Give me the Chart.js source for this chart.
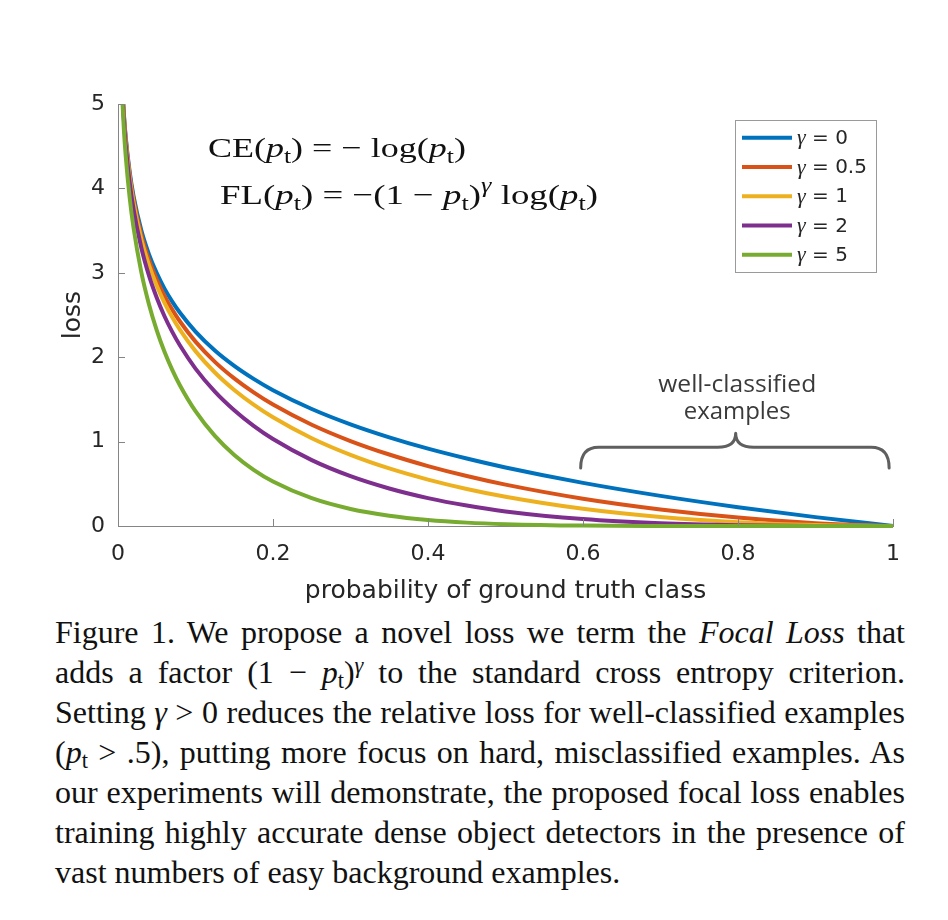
<!DOCTYPE html>
<html>
<head>
<meta charset="utf-8">
<script src="https://cdn.jsdelivr.net/npm/chart.js@4.4.1/dist/chart.umd.min.js"></script>
<style>
  html, body { margin: 0; padding: 0; background: #fff; }
  #wrap { position: relative; width: 948px; height: 920px; }
  #myChart { position: absolute; left: 0; top: 0; }
  .cap { position: absolute; left: 55px; top: 612px; width: 850px;
         font-family: "Liberation Serif", "Times New Roman", serif; font-size: 32px;
         line-height: 40px; color: #111; }
  .ln { white-space: nowrap; height: 40px; }
  .sb { font-size: 0.7em; position: relative; top: 0.22em; line-height: 0; }
  .sp { font-size: 0.7em; position: relative; top: -0.45em; line-height: 0; }
</style>
</head>
<body>
<div id="wrap">
  <canvas id="myChart" width="948" height="612"></canvas>
  <div class="cap" id="cap">
    <div class="ln"><span>Figure 1. We propose a novel loss we term the <i>Focal Loss</i> that</span></div>
    <div class="ln"><span>adds a factor (1 − <i>p</i><span class="sb">t</span>)<span class="sp"><i>γ</i></span> to the standard cross entropy criterion.</span></div>
    <div class="ln"><span>Setting <i>γ</i> &gt; 0 reduces the relative loss for well-classified examples</span></div>
    <div class="ln"><span>(<i>p</i><span class="sb">t</span> &gt; .5), putting more focus on hard, misclassified examples. As</span></div>
    <div class="ln"><span>our experiments will demonstrate, the proposed focal loss enables</span></div>
    <div class="ln"><span>training highly accurate dense object detectors in the presence of</span></div>
    <div class="ln"><span>vast numbers of easy background examples.</span></div>
  </div>
</div>
<script>
// probability of ground truth class
const pt = [0.005, 0.0075, 0.01, 0.015, 0.02, 0.03, 0.04, 0.05, 0.06, 0.07, 0.08, 0.1, 0.125,
  0.15, 0.175, 0.2, 0.25, 0.3, 0.35, 0.4, 0.45, 0.5, 0.6, 0.7, 0.8, 0.9, 1];

// loss
const lossG0 = [5.298, 4.893, 4.605, 4.200, 3.912, 3.507, 3.219, 2.996, 2.813, 2.659, 2.526, 2.303, 2.079,
  1.897, 1.743, 1.609, 1.386, 1.204, 1.050, 0.916, 0.799, 0.693, 0.511, 0.357, 0.223, 0.105, 0];
const lossG05 = [5.285, 4.875, 4.582, 4.168, 3.873, 3.454, 3.154, 2.920, 2.727, 2.564, 2.423, 2.185, 1.945,
  1.749, 1.583, 1.439, 1.200, 1.007, 0.847, 0.710, 0.592, 0.490, 0.323, 0.196, 0.100, 0.033, 0];
const lossG1 = [5.272, 4.856, 4.559, 4.137, 3.834, 3.402, 3.090, 2.846, 2.644, 2.473, 2.324, 2.072, 1.819,
  1.612, 1.438, 1.288, 1.040, 0.843, 0.682, 0.550, 0.439, 0.347, 0.204, 0.107, 0.045, 0.011, 0];
const lossG2 = [5.245, 4.820, 4.513, 4.075, 3.757, 3.300, 2.966, 2.704, 2.485, 2.300, 2.138, 1.865, 1.592,
  1.371, 1.186, 1.030, 0.780, 0.590, 0.444, 0.330, 0.242, 0.173, 0.082, 0.032, 0.009, 0.001, 0];
const lossG5 = [5.167, 4.712, 4.379, 3.894, 3.536, 3.011, 2.625, 2.318, 2.064, 1.850, 1.665, 1.360, 1.067,
  0.842, 0.666, 0.527, 0.329, 0.202, 0.122, 0.071, 0.040, 0.022, 0.005, 0.001, 0, 0, 0];

const gammaLabels = ['0', '0.5', '1', '2', '5'];
const seriesList = [lossG0, lossG05, lossG1, lossG2, lossG5];
const lineColors = ['#0072BD', '#D95319', '#EDB120', '#7E2F8E', '#77AC30'];

const axisGray = '#858585';
const textDark = '#262626';

// draw a run of [text, style] pieces, stretched to a target width
function drawRich(ctx, x, y, parts, size, targetW) {
  const fontOf = s => {
    if (s === 'i') return 'italic ' + size + 'px "Liberation Serif"';
    if (s === 's') return Math.round(size * 0.7) + 'px "Liberation Serif"';
    if (s === 'p') return 'italic ' + Math.round(size * 0.7) + 'px "Liberation Serif"';
    return size + 'px "Liberation Serif"';
  };
  let w = 0;
  parts.forEach(p => { ctx.font = fontOf(p[1]); w += ctx.measureText(p[0]).width; });
  ctx.save();
  ctx.translate(x, y);
  ctx.scale(targetW / w, 1);
  let cx = 0;
  parts.forEach(p => {
    ctx.font = fontOf(p[1]);
    let dy = 0;
    if (p[1] === 's') dy = size * 0.2;
    if (p[1] === 'p') dy = -size * 0.42;
    ctx.fillText(p[0], cx, dy);
    cx += ctx.measureText(p[0]).width;
  });
  ctx.restore();
}

function drawFit(ctx, text, cx, y, font, targetW) {
  ctx.font = font;
  const w = ctx.measureText(text).width;
  ctx.save();
  ctx.translate(cx, y);
  ctx.scale(targetW / w, 1);
  ctx.textAlign = 'center';
  ctx.fillText(text, 0, 0);
  ctx.restore();
}

const overlay = {
  id: 'overlay',
  afterDraw(chart) {
    const ctx = chart.ctx;
    const a = chart.chartArea;
    const xs = chart.scales.x, ys = chart.scales.y;
    ctx.save();

    // inward tick marks
    ctx.strokeStyle = axisGray;
    ctx.lineWidth = 1;
    xs.ticks.forEach(t => {
      const px = Math.round(xs.getPixelForValue(t.value)) + 0.5;
      ctx.beginPath(); ctx.moveTo(px, a.bottom); ctx.lineTo(px, a.bottom - 7); ctx.stroke();
    });
    ys.ticks.forEach(t => {
      const py = Math.round(ys.getPixelForValue(t.value)) + 0.5;
      ctx.beginPath(); ctx.moveTo(a.left, py); ctx.lineTo(a.left + 7, py); ctx.stroke();
    });

    // brace over well-classified examples
    const bx0 = xs.getPixelForValue(0.597), bx1 = xs.getPixelForValue(0.995), bxc = xs.getPixelForValue(0.797);
    const yTip = ys.getPixelForValue(0.687), yFlat = ys.getPixelForValue(0.932), yPeak = ys.getPixelForValue(1.098);
    const r = 18;
    ctx.strokeStyle = '#5f5f5f';
    ctx.lineWidth = 3;
    ctx.lineCap = 'round';
    ctx.beginPath();
    ctx.moveTo(bx0, yTip);
    ctx.quadraticCurveTo(bx0, yFlat, bx0 + r, yFlat);
    ctx.lineTo(bxc - r, yFlat);
    ctx.quadraticCurveTo(bxc, yFlat, bxc, yPeak);
    ctx.moveTo(bxc, yPeak);
    ctx.quadraticCurveTo(bxc, yFlat, bxc + r, yFlat);
    ctx.lineTo(bx1 - r, yFlat);
    ctx.quadraticCurveTo(bx1, yFlat, bx1, yTip);
    ctx.stroke();

    ctx.fillStyle = '#3a3a3a';
    ctx.textBaseline = 'alphabetic';
    const tx = xs.getPixelForValue(0.799);
    drawFit(ctx, 'well-classified', tx, ys.getPixelForValue(1.588), '24px "Open Sans"', 158);
    drawFit(ctx, 'examples', tx, ys.getPixelForValue(1.268), '24px "Open Sans"', 107);

    // equations
    ctx.fillStyle = '#111';
    ctx.textAlign = 'left';
    drawRich(ctx, xs.getPixelForValue(0.116), ys.getPixelForValue(4.372),
      [['CE(', 'r'], ['p', 'i'], ['t', 's'], [') = − log(', 'r'], ['p', 'i'], ['t', 's'], [')', 'r']], 28, 258);
    drawRich(ctx, xs.getPixelForValue(0.1316), ys.getPixelForValue(3.815),
      [['FL(', 'r'], ['p', 'i'], ['t', 's'], [') = −(1 − ', 'r'], ['p', 'i'], ['t', 's'], [')', 'r'],
       ['γ', 'p'], [' log(', 'r'], ['p', 'i'], ['t', 's'], [')', 'r']], 28, 378);

    // legend box
    const lx = 735.5, ly = 120.5, lw = 141, lh = 152;
    ctx.fillStyle = '#fff';
    ctx.fillRect(lx, ly, lw, lh);
    ctx.strokeStyle = '#9a9a9a';
    ctx.lineWidth = 1;
    ctx.strokeRect(lx, ly, lw, lh);
    ctx.lineCap = 'butt';
    chart.data.datasets.forEach((ds, i) => {
      const ry = 137.7 + i * 29.25;
      ctx.strokeStyle = ds.borderColor;
      ctx.lineWidth = 4;
      ctx.beginPath(); ctx.moveTo(742, ry); ctx.lineTo(792, ry); ctx.stroke();
      ctx.fillStyle = textDark;
      ctx.textBaseline = 'middle';
      ctx.font = 'italic 22px "Liberation Serif"';
      ctx.fillText('γ', 797, ry + 1);
      const gw = ctx.measureText('γ').width;
      ctx.font = '20px "DejaVu Sans"';
      ctx.fillText(' = ' + gammaLabels[i], 797 + gw, ry + 1);
    });

    ctx.restore();
  }
};

const datasets = seriesList.map((vals, i) => ({
  label: 'γ = ' + gammaLabels[i],
  data: pt.map((p, j) => ({ x: p, y: vals[j] })),
  borderColor: lineColors[i],
  backgroundColor: lineColors[i],
  borderWidth: 4,
  pointRadius: 0,
  fill: false,
  cubicInterpolationMode: 'monotone',
  order: seriesList.length - i,
  clip: { left: 0, top: 0, right: 6, bottom: 6 }
}));

const ctx = document.getElementById('myChart').getContext('2d');

var myChart = new Chart(ctx, {
  type: 'line',
  data: { datasets: datasets },
  options: {
    responsive: false,
    animation: false,
    layout: { padding: { top: 104, right: 55, bottom: 0, left: 0 } },
    plugins: { legend: { display: false }, tooltip: { enabled: false } },
    scales: {
      x: {
        type: 'linear',
        min: 0, max: 1,
        afterFit: s => { s.height = 86; },
        grid: { display: false, drawTicks: false },
        border: { display: true, color: axisGray, width: 1 },
        ticks: {
          stepSize: 0.2,
          padding: 15,
          color: textDark,
          font: { family: 'DejaVu Sans', size: 22 },
          maxRotation: 0,
          callback: v => String(Math.round(v * 10) / 10)
        },
        title: {
          display: true,
          text: 'probability of ground truth class',
          color: textDark,
          font: { family: 'DejaVu Sans', size: 25 },
          padding: { top: 0, bottom: 6 }
        }
      },
      y: {
        min: 0, max: 5,
        afterFit: s => { s.width = 118; },
        grid: { display: false, drawTicks: false },
        border: { display: true, color: axisGray, width: 1 },
        ticks: {
          stepSize: 1,
          padding: 13,
          color: textDark,
          font: { family: 'DejaVu Sans', size: 22 }
        },
        title: {
          display: true,
          text: 'loss',
          color: textDark,
          font: { family: 'DejaVu Sans', size: 25 },
          padding: { top: 58, bottom: 0 }
        }
      }
    }
  },
  plugins: [overlay]
});

// justify each caption line to the full width
const capLines = document.querySelectorAll('#cap .ln');
capLines.forEach((ln, i) => {
  if (i === capLines.length - 1) return;
  const span = ln.firstElementChild;
  const w = span.getBoundingClientRect().width;
  const gaps = (span.textContent.match(/ /g) || []).length;
  if (gaps) ln.style.wordSpacing = ((850 - w) / gaps) + 'px';
});
</script>
</body>
</html>
